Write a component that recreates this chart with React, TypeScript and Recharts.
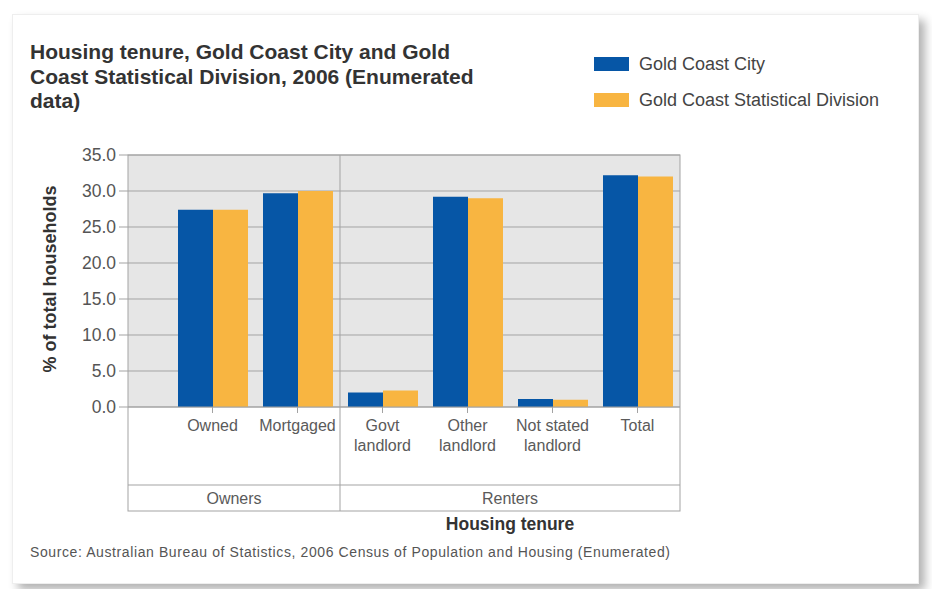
import React from 'react';
import { BarChart, Bar, XAxis, YAxis, CartesianGrid, Legend } from 'recharts';

const categories = ['Owned', 'Mortgaged', 'Govt landlord', 'Other landlord', 'Not stated landlord', 'Total'];
const groups = ['Owners', 'Owners', 'Renters', 'Renters', 'Renters', 'Renters'];
const goldCoastCity = [27.4, 29.7, 2.0, 29.2, 1.1, 32.2];
const goldCoastDivision = [27.4, 30.0, 2.3, 29.0, 1.0, 32.0];
const yTicks = [0, 5, 10, 15, 20, 25, 30, 35];

const data = categories.map((name, i) => ({
  name,
  group: groups[i],
  city: goldCoastCity[i],
  division: goldCoastDivision[i],
}));

// layout
const W = 932;
const H = 589;
const PLOT_LEFT = 128;
const PLOT_RIGHT = 680;
const PLOT_TOP = 155;
const PLOT_BOTTOM = 407;
const PAD_LEFT = 42;
const LABEL_ROW = 78; // category label row height
const GROUP_ROW = 26;
const FONT = '"Liberation Sans", Arial, sans-serif';
const LINE = '#a3a3a3';
const BLUE = '#0656a6';
const ORANGE = '#f8b541';

const band = (PLOT_RIGHT - PLOT_LEFT - PAD_LEFT) / categories.length;

const CategoryTick = (props: any) => {
  const { x, y, payload } = props;
  const label: string = payload.value;
  const lines = label.endsWith(' landlord') ? [label.replace(' landlord', ''), 'landlord'] : [label];
  return (
    <text x={x} y={y} textAnchor="middle" fill="#5a5a5a" fontSize={16} fontFamily={FONT}>
      {lines.map((l, i) => (
        <tspan key={i} x={x} dy={i === 0 ? 16 : 20}>{l}</tspan>
      ))}
    </text>
  );
};

const LegendContent = (props: any) => {
  const { payload } = props;
  return (
    <div>
      {payload.map((p: any) => (
        <div key={p.value} style={{ display: 'flex', alignItems: 'center', height: 36 }}>
          <div style={{ width: 35, height: 14, background: p.color, marginRight: 10 }} />
          <span style={{ fontFamily: FONT, fontSize: 18, color: '#444' }}>{p.value}</span>
        </div>
      ))}
    </div>
  );
};

function TableFrame() {
  const bottomRow = PLOT_BOTTOM + LABEL_ROW;
  const bottom = bottomRow + GROUP_ROW;
  // group extents from the group list
  const spans: { name: string; start: number; end: number }[] = [];
  groups.forEach((g, i) => {
    const s = i === 0 ? PLOT_LEFT : PLOT_LEFT + PAD_LEFT + i * band;
    const e = PLOT_LEFT + PAD_LEFT + (i + 1) * band;
    const last = spans[spans.length - 1];
    if (last && last.name === g) last.end = e;
    else spans.push({ name: g, start: s, end: e });
  });
  return (
    <svg width={W} height={H} style={{ position: 'absolute', left: 0, top: 0, pointerEvents: 'none' }}>
      <rect x={PLOT_LEFT} y={PLOT_TOP} width={PLOT_RIGHT - PLOT_LEFT} height={bottom - PLOT_TOP} fill="none" stroke={LINE} />
      <line x1={PLOT_LEFT} x2={PLOT_RIGHT} y1={PLOT_BOTTOM} y2={PLOT_BOTTOM} stroke={LINE} />
      <line x1={PLOT_LEFT} x2={PLOT_RIGHT} y1={bottomRow} y2={bottomRow} stroke={LINE} />
      {spans.slice(1).map((s) => (
        <line key={s.name} x1={s.start} x2={s.start} y1={PLOT_TOP} y2={bottom} stroke={LINE} />
      ))}
      {spans.map((s) => (
        <text key={s.name} x={(s.start + s.end) / 2} y={bottomRow + 19} textAnchor="middle" fill="#5a5a5a" fontSize={16} fontFamily={FONT}>
          {s.name}
        </text>
      ))}
      <text
        x={0}
        y={0}
        transform={`translate(56, ${(PLOT_TOP + PLOT_BOTTOM) / 2 - 2}) rotate(-90)`}
        textAnchor="middle"
        fill="#333"
        fontSize={18}
        fontWeight="bold"
        fontFamily={FONT}
      >
        % of total households
      </text>
      <text x={510} y={bottom + 19} textAnchor="middle" fill="#333" fontSize={17.5} fontWeight="bold" fontFamily={FONT}>
        Housing tenure
      </text>
    </svg>
  );
}

export default function App() {
  return (
    <div style={{ position: 'fixed', left: 0, top: 0, width: W, height: H, background: '#fff', overflow: 'hidden' }}>
      <div
        style={{
          position: 'absolute',
          left: 12,
          top: 14,
          width: 905,
          height: 568,
          background: '#fff',
          border: '1px solid #eee',
          boxShadow: '6px 6px 9px rgba(0,0,0,0.3)',
        }}
      />
      <div
        style={{
          position: 'absolute',
          left: 30,
          top: 40,
          fontFamily: FONT,
          fontWeight: 'bold',
          fontSize: 21,
          lineHeight: '24.5px',
          color: '#333',
          whiteSpace: 'nowrap',
        }}
      >
        Housing tenure, Gold Coast City and Gold
        <br />
        Coast Statistical Division, 2006 (Enumerated
        <br />
        data)
      </div>
      <div style={{ position: 'absolute', left: 0, top: 0 }}>
        <BarChart
          width={W}
          height={H}
          data={data}
          margin={{ top: PLOT_TOP, right: W - PLOT_RIGHT, bottom: H - PLOT_BOTTOM - LABEL_ROW, left: 40 }}
          barCategoryGap={8}
          barGap={0}
        >
          <CartesianGrid vertical={false} fill="#e6e6e6" stroke={LINE} fillOpacity={1} />
          <XAxis
            dataKey="name"
            padding={{ left: PAD_LEFT, right: 0 }}
            axisLine={false}
            tickLine={{ stroke: LINE }}
            tickSize={6}
            height={LABEL_ROW}
            interval={0}
            tick={<CategoryTick />}
          />
          <YAxis
            width={PLOT_LEFT - 40}
            domain={[0, 35]}
            ticks={yTicks}
            tickFormatter={(v: number) => v.toFixed(1)}
            axisLine={false}
            tickLine={{ stroke: LINE }}
            tickSize={9}
            tickMargin={3}
            tick={{ fill: '#555', fontSize: 17.5, fontFamily: FONT }}
          />
          <Legend
            layout="horizontal"
            verticalAlign="middle"
            align="center"
            content={<LegendContent />}
            wrapperStyle={{ position: 'absolute', left: 594, top: 46, width: 320 }}
          />
          <Bar dataKey="city" name="Gold Coast City" fill={BLUE} isAnimationActive={false} />
          <Bar dataKey="division" name="Gold Coast Statistical Division" fill={ORANGE} isAnimationActive={false} />
        </BarChart>
      </div>
      <TableFrame />
      <div
        style={{
          position: 'absolute',
          left: 30,
          top: 544,
          fontFamily: FONT,
          fontSize: 14,
          letterSpacing: 0.6,
          color: '#555',
          whiteSpace: 'nowrap',
        }}
      >
        Source: Australian Bureau of Statistics, 2006 Census of Population and Housing (Enumerated)
      </div>
    </div>
  );
}
